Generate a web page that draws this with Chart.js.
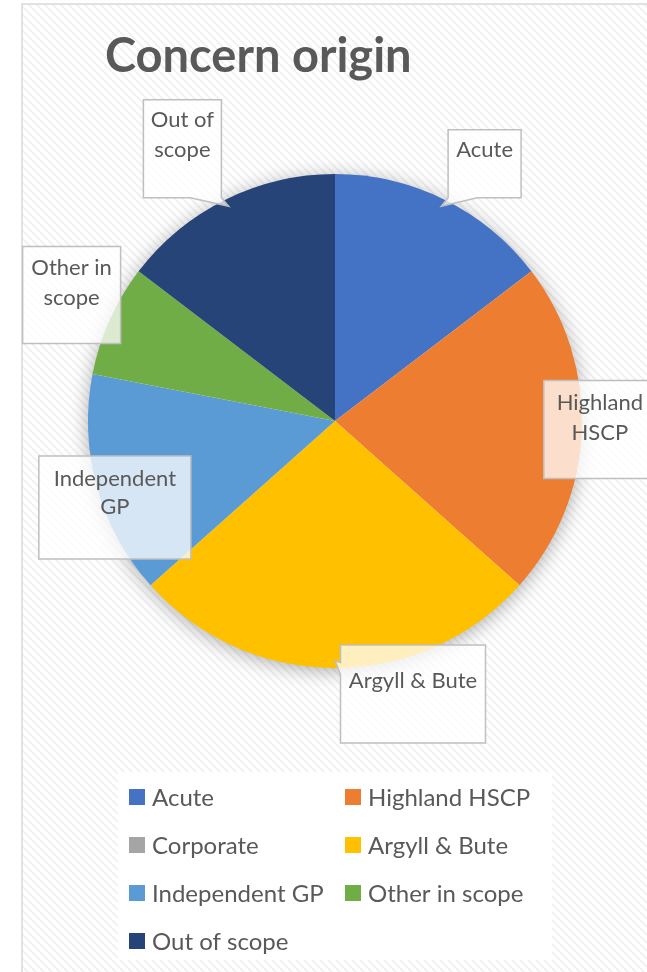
<!DOCTYPE html>
<html>
<head>
<meta charset="utf-8">
<script src="https://cdn.jsdelivr.net/npm/chart.js@4.4.1/dist/chart.umd.min.js"></script>
<style>
  html, body { margin: 0; padding: 0; background: #fff; }
  #wrap { width: 647px; height: 972px; }
</style>
</head>
<body>
<div id="wrap"><canvas id="PieChart" width="647" height="972"></canvas></div>
<script>
const categories = ['Acute', 'Highland HSCP', 'Corporate', 'Argyll & Bute', 'Independent GP', 'Other in scope', 'Out of scope'];
const counts = [6, 9, 0, 11, 6, 3, 6];
const sliceColors = ['#4472C4', '#ED7D31', '#A5A5A5', '#FFC000', '#5B9BD5', '#70AD47', '#264478'];

// callout boxes, placed relative to the point on the rim at each slice's mid angle
const callouts = [
  { lines: ['Acute'], dx: 40, dy: -36, w: 73, h: 68, textTop: 20, pointer: true },
  { lines: ['Highland', 'HSCP'], dx: 18, dy: -1, w: 112, h: 98, textTop: 22 },
  null,
  { lines: ['Argyll & Bute'], dx: 78, dy: 26, w: 145, h: 98, textTop: 36, pointer: true },
  { lines: ['Independent', 'GP'], dx: 18, dy: 21, w: 152, h: 103, textTop: 23, gap: 28 },
  { lines: ['Other in', 'scope'], dx: -38, dy: -25, w: 98, h: 97, textTop: 21 },
  { lines: ['Out of', 'scope'], dx: -43, dy: -51, w: 78, h: 98, textTop: 20, pointer: true }
];

const FONT = 'Lato, "Open Sans", sans-serif';
const TEXT = '#595959';

document.addEventListener("DOMContentLoaded", () => {
  const ctx = document.getElementById("PieChart").getContext('2d');

  // light downward diagonal hatch
  const tile = document.createElement('canvas');
  tile.width = 8; tile.height = 8;
  const t = tile.getContext('2d');
  t.fillStyle = '#ffffff';
  t.fillRect(0, 0, 8, 8);
  t.strokeStyle = '#f1f1f1';
  t.lineWidth = 2;
  for (let k = -8; k <= 8; k += 8) {
    t.beginPath();
    t.moveTo(k, 0);
    t.lineTo(k + 8, 8);
    t.stroke();
  }
  const hatch = ctx.createPattern(tile, 'repeat');

  function calloutPath(c, x, y, w, h, tx, ty, pointer) {
    const l = x, r = x + w, tp = y, b = y + h;
    c.beginPath();
    c.moveTo(l, tp);
    c.lineTo(r, tp);
    if (pointer && tx > r && ty >= tp && ty <= b) {
      const m = Math.min(Math.max(ty, tp + 6), b - 6);
      c.lineTo(r, m - 6); c.lineTo(tx, ty); c.lineTo(r, m + 6);
    }
    c.lineTo(r, b);
    if (pointer && ty > b) {
      const bw = w * 0.4;
      if (tx > x + w / 2) {
        c.lineTo(tx, ty); c.lineTo(r - bw, b);
      } else {
        c.lineTo(l + bw, b); c.lineTo(tx, ty);
      }
    }
    c.lineTo(l, b);
    if (pointer && tx < l && ty >= tp && ty <= b) {
      const m = Math.min(Math.max(ty + 8, tp + 6), b - 6);
      c.lineTo(l, m + 6); c.lineTo(tx, ty); c.lineTo(l, m - 6);
    }
    c.closePath();
  }

  const pieChart = new Chart(ctx, {
    type: 'pie',
    data: {
      labels: categories,
      datasets: [{
        label: 'Concern origin',
        data: counts,
        backgroundColor: sliceColors,
        borderWidth: 0
      }]
    },
    options: {
      responsive: false,
      animation: false,
      layout: { padding: { left: 88, right: 65, top: 174, bottom: 304 } },
      plugins: {
        legend: { display: false },
        title: { display: false },
        tooltip: { enabled: false }
      }
    },
    plugins: [{
      id: 'excelLook',
      beforeDraw: (chart) => {
        const c = chart.ctx;
        c.save();
        c.fillStyle = '#ffffff';
        c.fillRect(0, 0, chart.width, chart.height);
        c.fillStyle = hatch;
        c.fillRect(22, 4, chart.width, chart.height);
        c.strokeStyle = '#d9d9d9';
        c.lineWidth = 1.5;
        c.beginPath();
        c.moveTo(22, chart.height);
        c.lineTo(22, 4);
        c.lineTo(chart.width, 4);
        c.stroke();
        c.restore();
      },
      beforeDatasetsDraw: (chart) => {
        const arc = chart.getDatasetMeta(0).data[0];
        const c = chart.ctx;
        c.save();
        c.shadowColor = 'rgba(0,0,0,0.35)';
        c.shadowBlur = 20;
        c.shadowOffsetY = 3;
        c.fillStyle = '#ffffff';
        c.beginPath();
        c.arc(arc.x, arc.y, arc.outerRadius - 1, 0, Math.PI * 2);
        c.fill();
        c.restore();
      },
      afterDatasetsDraw: (chart) => {
        const c = chart.ctx;
        const arcs = chart.getDatasetMeta(0).data;
        c.save();
        arcs.forEach((a, i) => {
          const co = callouts[i];
          if (!co || !counts[i]) return;
          const mid = (a.startAngle + a.endAngle) / 2;
          const px = a.x + Math.cos(mid) * a.outerRadius;
          const py = a.y + Math.sin(mid) * a.outerRadius;
          const tx = a.x + Math.cos(mid) * a.outerRadius * 0.97;
          const ty = a.y + Math.sin(mid) * a.outerRadius * 0.97;
          const bx = px + co.dx - co.w / 2;
          const by = py + co.dy - co.h / 2;
          calloutPath(c, bx, by, co.w, co.h, tx, ty, co.pointer);
          c.fillStyle = 'rgba(255,255,255,0.75)';
          c.fill();
          c.strokeStyle = '#bfbfbf';
          c.lineWidth = 1.5;
          c.stroke();
          c.fillStyle = TEXT;
          c.font = '22px ' + FONT;
          c.textAlign = 'center';
          c.textBaseline = 'middle';
          co.lines.forEach((ln, j) => {
            c.fillText(ln, bx + co.w / 2, by + co.textTop + j * (co.gap || 30));
          });
        });
        c.restore();
      },
      afterDraw: (chart) => {
        const c = chart.ctx;
        c.save();
        // title
        c.fillStyle = TEXT;
        c.font = 'bold 47px ' + FONT;
        c.textAlign = 'left';
        c.textBaseline = 'alphabetic';
        c.fillText('Concern origin', 105, 72);
        // legend
        c.fillStyle = 'rgba(255,255,255,0.9)';
        c.fillRect(118, 772, 434, 188);
        c.font = '24px ' + FONT;
        c.textBaseline = 'middle';
        categories.forEach((lab, i) => {
          const col = i % 2, row = Math.floor(i / 2);
          const x = 129 + col * 216;
          const y = 797 + row * 48;
          c.fillStyle = sliceColors[i];
          c.fillRect(x, y - 8, 16, 16);
          c.fillStyle = TEXT;
          c.fillText(lab, x + 23, y + 1);
        });
        c.restore();
      }
    }]
  });
});
</script>
</body>
</html>
